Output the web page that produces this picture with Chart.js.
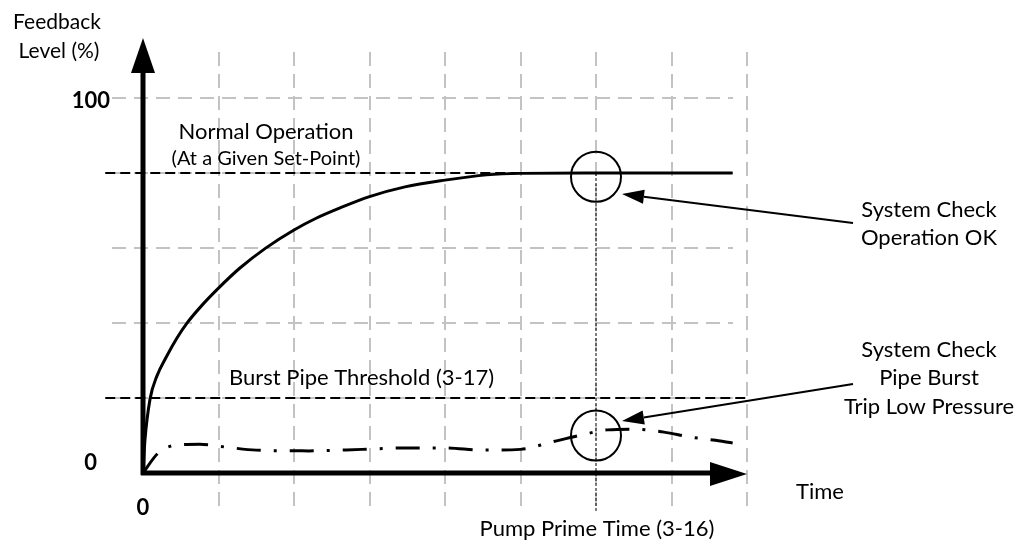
<!DOCTYPE html>
<html>
<head>
<meta charset="utf-8">
<script src="https://cdn.jsdelivr.net/npm/chart.js@4.4.1/dist/chart.umd.min.js"></script>
<style>
  html, body { margin: 0; padding: 0; background: #fff; }
  #wrap { width: 1028px; height: 542px; position: relative; }
</style>
</head>
<body>
<div id="wrap"><canvas id="myChart"></canvas></div>
<script>
// time axis in grid steps, level in %
const gridTimes = [1, 2, 3, 4, 5, 6, 7, 8];
const gridLevels = [20, 40, 60, 80, 100];
const yTickLabels = ['0', '100'];
const xTickLabels = ['0'];

// normal operation curve
const normalTime = [0, 0.026, 0.093, 0.185, 0.31, 0.45, 0.58, 0.78, 1, 1.28, 1.62, 2, 2.3, 2.61, 3, 3.47, 4, 4.55, 5, 6.05, 7.81];
const normalLevel = [0, 8.8, 19.7, 25.9, 31, 36, 39.9, 44.7, 49.3, 54.6, 59.9, 64.8, 68, 70.7, 73.7, 76.3, 78.1, 79.5, 79.9, 80, 80];

// pipe burst curve
const burstTime = [0, 0.2, 0.4, 0.75, 1.1, 1.5, 2.2, 2.9, 3.5, 4.0, 4.5, 5.0, 5.4, 5.8, 6.15, 6.5, 6.9, 7.25, 7.55, 7.81];
const burstLevel = [0, 5.3, 7.3, 7.7, 6.9, 6.1, 5.9, 6.3, 6.7, 6.7, 6.1, 6.3, 8.2, 10.1, 11.5, 11.7, 10.9, 9.6, 8.8, 8.0];

// reference levels
const setPoint = 80;
const burstThreshold = 20;
const pumpPrimeTime = 6;
const checkLevels = [79, 10];

function pts(xs, ys) {
    return xs.map(function (x, i) { return {x: x, y: ys[i]}; });
}

var overlay = {
    id: 'overlay',
    beforeDatasetsDraw: function (chart) {
        var ctx = chart.ctx, xs = chart.scales.x, ys = chart.scales.y;
        ctx.save();
        ctx.strokeStyle = '#c3c3c3';
        ctx.lineWidth = 2;
        ctx.setLineDash([14, 8]);
        gridTimes.forEach(function (t) {
            var px = Math.round(xs.getPixelForValue(t));
            ctx.beginPath();
            ctx.moveTo(px, 52);
            ctx.lineTo(px, 512);
            ctx.stroke();
        });
        gridLevels.forEach(function (v) {
            var py = Math.round(ys.getPixelForValue(v));
            ctx.beginPath();
            ctx.moveTo(112, py);
            ctx.lineTo(733, py);
            ctx.stroke();
        });
        ctx.restore();
    },
    afterDatasetsDraw: function (chart) {
        var ctx = chart.ctx, xs = chart.scales.x, ys = chart.scales.y;
        var x0 = xs.getPixelForValue(0), y0 = ys.getPixelForValue(0);
        ctx.save();
        ctx.setLineDash([]);
        ctx.fillStyle = '#000';
        ctx.strokeStyle = '#000';

        // axes with arrows
        ctx.lineWidth = 5;
        ctx.beginPath();
        ctx.moveTo(x0, y0 + 2);
        ctx.lineTo(x0, 70);
        ctx.moveTo(x0 - 2, y0);
        ctx.lineTo(712, y0);
        ctx.stroke();
        ctx.beginPath();
        ctx.moveTo(x0, 38);
        ctx.lineTo(x0 + 12, 73);
        ctx.lineTo(x0 - 12, 73);
        ctx.closePath();
        ctx.fill();
        ctx.beginPath();
        ctx.moveTo(747, y0 + 1);
        ctx.lineTo(710, y0 - 11);
        ctx.lineTo(710, y0 + 13);
        ctx.closePath();
        ctx.fill();

        // callout arrows
        function arrow(fx, fy, tx, ty) {
            var a = Math.atan2(ty - fy, tx - fx), len = 22, w = 7;
            var bx = tx - len * Math.cos(a), by = ty - len * Math.sin(a);
            ctx.lineWidth = 2;
            ctx.beginPath();
            ctx.moveTo(fx, fy);
            ctx.lineTo(bx, by);
            ctx.stroke();
            ctx.beginPath();
            ctx.moveTo(tx, ty);
            ctx.lineTo(bx + w * Math.sin(a), by - w * Math.cos(a));
            ctx.lineTo(bx - w * Math.sin(a), by + w * Math.cos(a));
            ctx.closePath();
            ctx.fill();
        }
        arrow(853, 223, 622, 194);
        arrow(853, 384, 622, 421);

        // texts
        ctx.textAlign = 'center';
        ctx.textBaseline = 'middle';
        ctx.font = '21px Lato';
        ctx.fillText('Feedback', 57, 22);
        ctx.fillText('Level (%)', 59, 51);
        ctx.font = '22px Lato';
        ctx.fillText('Normal Operation', 266, 132);
        ctx.font = '20px Lato';
        ctx.fillText('(At a Given Set-Point)', 266, 159);
        ctx.font = '22px Lato';
        ctx.fillText('System Check', 929, 210);
        ctx.fillText('Operation OK', 929, 238);
        ctx.fillText('System Check', 929, 350);
        ctx.fillText('Pipe Burst', 929, 378);
        ctx.fillText('Trip Low Pressure', 929, 407);
        ctx.fillText('Time', 820, 492);
        ctx.fillText('Pump Prime Time (3-16)', xs.getPixelForValue(pumpPrimeTime) + 1, 529);
        ctx.textAlign = 'left';
        ctx.fillText('Burst Pipe Threshold (3-17)', 229, 378);

        ctx.font = 'bold 22px Lato';
        ctx.textAlign = 'right';
        ctx.fillText(yTickLabels[1], 110, ys.getPixelForValue(100) + 3);
        ctx.fillText(yTickLabels[0], 97, y0 - 10);
        ctx.textAlign = 'center';
        ctx.fillText(xTickLabels[0], x0, 508);
        ctx.restore();
    }
};

var ctx = document.getElementById('myChart').getContext('2d');
var chart = new Chart(ctx, {
    type: 'line',
    data: {
        datasets: [{
            // set-point line
            data: pts([-0.5, 7.77], [setPoint, setPoint]),
            borderColor: '#000',
            borderWidth: 2,
            borderDash: [10, 5],
            pointRadius: 0,
            clip: false
        }, {
            // burst threshold line
            data: pts([-0.5, 8], [burstThreshold, burstThreshold]),
            borderColor: '#000',
            borderWidth: 2,
            borderDash: [10, 5],
            pointRadius: 0,
            clip: false
        }, {
            // pump prime time marker
            data: pts([pumpPrimeTime, pumpPrimeTime], [setPoint, -10.4]),
            borderColor: '#000',
            borderWidth: 1,
            borderDash: [3, 2],
            pointRadius: 0,
            clip: false
        }, {
            data: pts(normalTime, normalLevel),
            borderColor: '#000',
            borderWidth: 3,
            pointRadius: 0,
            cubicInterpolationMode: 'monotone',
            clip: false
        }, {
            data: pts(burstTime, burstLevel),
            borderColor: '#000',
            borderWidth: 3,
            borderDash: [24, 13, 3, 13],
            pointRadius: 0,
            cubicInterpolationMode: 'monotone',
            clip: false
        }, {
            // system check circles
            data: pts([pumpPrimeTime, pumpPrimeTime], checkLevels),
            showLine: false,
            pointRadius: 25,
            pointBorderWidth: 2,
            pointBorderColor: '#000',
            pointBackgroundColor: 'rgba(0,0,0,0)',
            clip: false
        }]
    },
    options: {
        responsive: true,
        maintainAspectRatio: false,
        animation: false,
        events: [],
        layout: { padding: { left: 143, right: 281, top: 98, bottom: 69 } },
        plugins: { legend: { display: false }, tooltip: { enabled: false } },
        scales: {
            x: { type: 'linear', min: 0, max: 8, display: false },
            y: { type: 'linear', min: 0, max: 100, display: false }
        }
    },
    plugins: [overlay]
});
</script>
</body>
</html>
